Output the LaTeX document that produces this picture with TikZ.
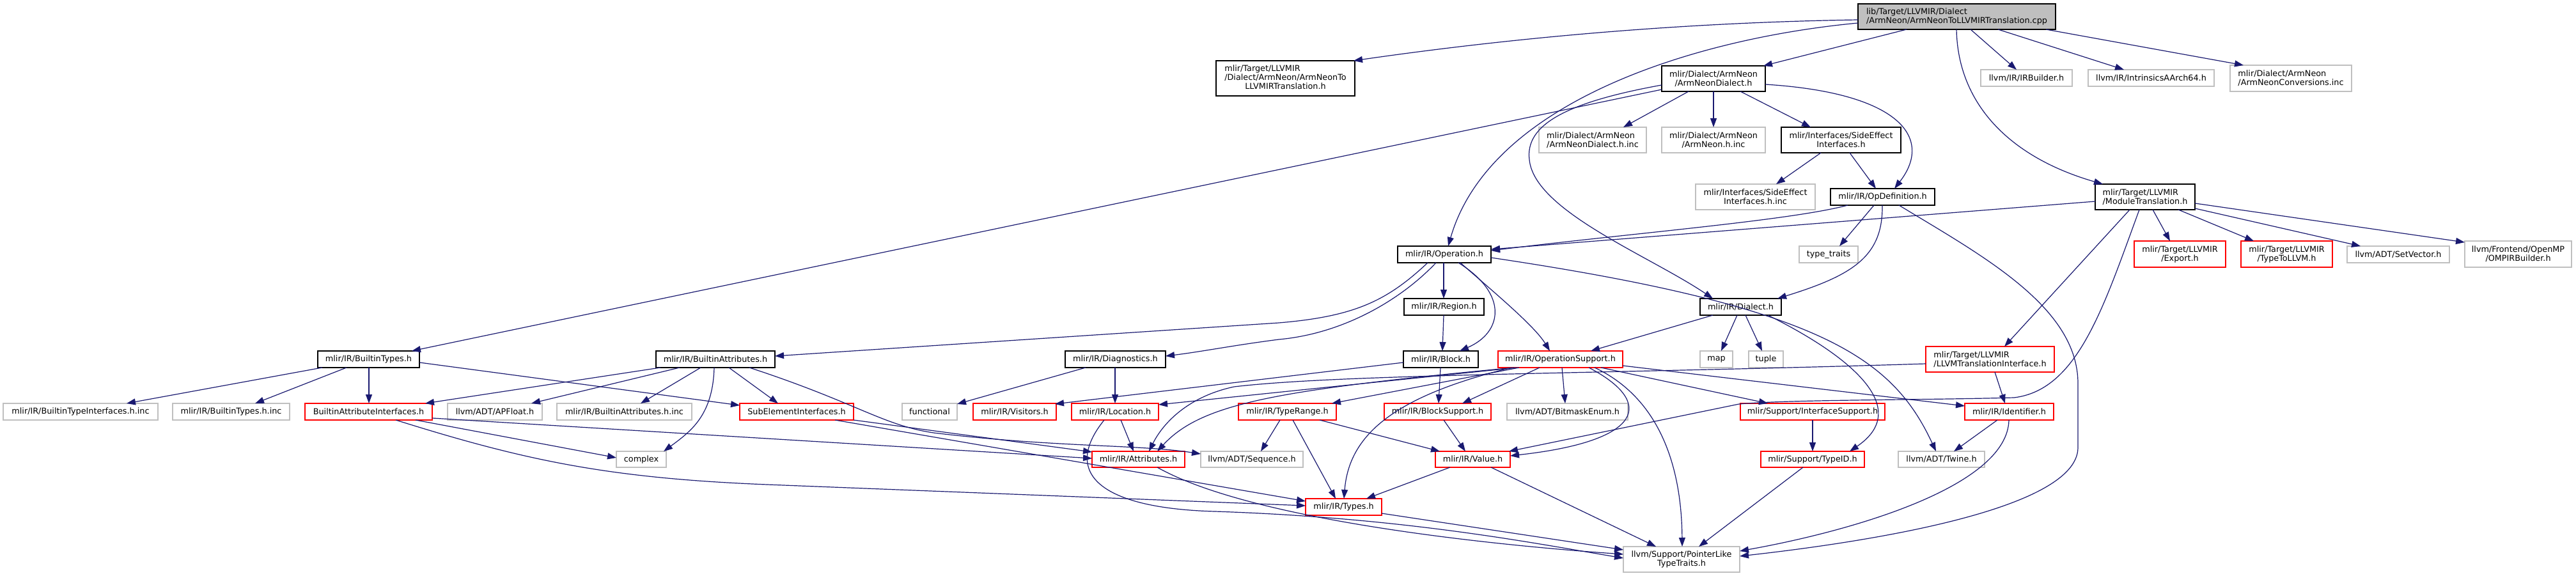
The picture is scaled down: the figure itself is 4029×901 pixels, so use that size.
\documentclass[tikz,border=0pt]{standalone}
\usepackage{fontspec}
\setmainfont{DejaVu Sans}
\usetikzlibrary{arrows.meta}
\definecolor{edgecol}{HTML}{191970}
\definecolor{graybd}{HTML}{BFBFBF}
\definecolor{rootfill}{HTML}{BFBFBF}
\newcommand\mkbox[7]{\node[#1, minimum width={(#4-#3)*1pt}, minimum height={(#6-#5)*1pt}] (#2) at ({(#3+#4)/2},{(#5+#6)/2}) {#7};}
\tikzset{
 nb/.style={draw=black, fill=white, line width=1.2pt, inner sep=0pt, outer sep=0pt, font=\fontsize{12.8}{14}\selectfont, align=center},
 ng/.style={nb, draw=graybd},
 nr/.style={nb, draw=red},
 nroot/.style={nb, fill=rootfill},
 conn/.style={draw=edgecol, line width=1.2pt, -{Triangle[length=14pt,width=10pt]}},
}
\begin{document}
\begin{tikzpicture}[x=1pt,y=-1pt]
\fill[white] (0,0) rectangle (4029,901);
\useasboundingbox (0,0) rectangle (4029,901);
% nodes
\mkbox{nroot, align=left}{root}{2906}{3215}{6}{46}{lib/Target/LLVMIR/Dialect\\/ArmNeon/ArmNeonToLLVMIRTranslation.cpp}
\mkbox{nb}{a2ltr}{1902}{2119}{95}{150}{\begin{tabular}{@{}l@{}}mlir/Target/LLVMIR\\/Dialect/ArmNeon/ArmNeonTo\\\multicolumn{1}{@{}c@{}}{LLVMIRTranslation.h}\end{tabular}}
\mkbox{nb}{andial}{2599}{2761}{103}{143}{mlir/Dialect/ArmNeon\\/ArmNeonDialect.h}
\mkbox{ng}{irb}{3098}{3241}{109}{135}{llvm/IR/IRBuilder.h}
\mkbox{ng}{intr}{3266}{3463}{109}{135}{llvm/IR/IntrinsicsAArch64.h}
\mkbox{ng, align=left}{conv}{3488}{3678}{102}{143}{mlir/Dialect/ArmNeon\\/ArmNeonConversions.inc}
\mkbox{ng, align=left}{dialinc}{2407}{2575}{199}{239}{mlir/Dialect/ArmNeon\\/ArmNeonDialect.h.inc}
\mkbox{ng}{neoninc}{2599}{2761}{199}{239}{mlir/Dialect/ArmNeon\\/ArmNeon.h.inc}
\mkbox{nb}{sei}{2786}{2973}{199}{239}{mlir/Interfaces/SideEffect\\Interfaces.h}
\mkbox{ng}{seiinc}{2652}{2839}{288}{328}{mlir/Interfaces/SideEffect\\Interfaces.h.inc}
\mkbox{nb}{opdef}{2863}{3026}{295}{321}{mlir/IR/OpDefinition.h}
\mkbox{nb, align=left}{modtr}{3277}{3433}{288}{328}{mlir/Target/LLVMIR\\/ModuleTranslation.h}
\mkbox{nb}{op}{2186}{2332}{385}{411}{mlir/IR/Operation.h}
\mkbox{ng}{typetraits}{2814}{2906}{385}{411}{type\_traits}
\mkbox{nr}{export}{3338}{3481}{377}{418}{mlir/Target/LLVMIR\\/Export.h}
\mkbox{nr}{tollvm}{3505}{3648}{377}{418}{mlir/Target/LLVMIR\\/TypeToLLVM.h}
\mkbox{ng}{setvec}{3671}{3831}{385}{411}{llvm/ADT/SetVector.h}
\mkbox{ng}{omp}{3855}{4022}{377}{418}{llvm/Frontend/OpenMP\\/OMPIRBuilder.h}
\mkbox{nb}{region}{2196}{2321}{467}{493}{mlir/IR/Region.h}
\mkbox{nb}{dialect}{2659}{2786}{467}{493}{mlir/IR/Dialect.h}
\mkbox{nb}{btypes}{497}{656}{549}{575}{mlir/IR/BuiltinTypes.h}
\mkbox{nb}{battrs}{1026}{1212}{549}{575}{mlir/IR/BuiltinAttributes.h}
\mkbox{nb}{diag}{1666}{1823}{549}{575}{mlir/IR/Diagnostics.h}
\mkbox{nb}{block}{2195}{2312}{549}{575}{mlir/IR/Block.h}
\mkbox{nr}{opsup}{2343}{2538}{549}{575}{mlir/IR/OperationSupport.h}
\mkbox{ng}{map}{2659}{2710}{549}{575}{map}
\mkbox{ng}{tuple}{2735}{2789}{549}{575}{tuple}
\mkbox{nr, align=left}{llvmti}{3012}{3213}{542}{582}{mlir/Target/LLVMIR\\/LLVMTranslationInterface.h}
\mkbox{ng}{btinc}{5}{247}{631}{657}{mlir/IR/BuiltinTypeInterfaces.h.inc}
\mkbox{ng}{btypesinc}{270}{453}{631}{657}{mlir/IR/BuiltinTypes.h.inc}
\mkbox{nr}{bai}{477}{676}{631}{657}{BuiltinAttributeInterfaces.h}
\mkbox{ng}{apfloat}{700}{848}{631}{657}{llvm/ADT/APFloat.h}
\mkbox{ng}{battrsinc}{871}{1082}{631}{657}{mlir/IR/BuiltinAttributes.h.inc}
\mkbox{nr}{subel}{1157}{1335}{631}{657}{SubElementInterfaces.h}
\mkbox{ng}{functional}{1411}{1497}{631}{657}{functional}
\mkbox{nr}{visitors}{1522}{1652}{631}{657}{mlir/IR/Visitors.h}
\mkbox{nr}{location}{1676}{1812}{631}{657}{mlir/IR/Location.h}
\mkbox{nr}{typerange}{1937}{2090}{631}{657}{mlir/IR/TypeRange.h}
\mkbox{nr}{blocksup}{2165}{2332}{631}{657}{mlir/IR/BlockSupport.h}
\mkbox{ng}{bitmask}{2357}{2546}{631}{657}{llvm/ADT/BitmaskEnum.h}
\mkbox{nr}{ifsup}{2722}{2948}{631}{657}{mlir/Support/InterfaceSupport.h}
\mkbox{nr}{identifier}{3073}{3212}{631}{657}{mlir/IR/Identifier.h}
\mkbox{ng}{complex}{964}{1042}{706}{731}{complex}
\mkbox{nr}{attrs}{1708}{1853}{706}{731}{mlir/IR/Attributes.h}
\mkbox{ng}{sequence}{1878}{2038}{706}{731}{llvm/ADT/Sequence.h}
\mkbox{nr}{value}{2245}{2362}{706}{731}{mlir/IR/Value.h}
\mkbox{nr}{typeid}{2754}{2916}{706}{731}{mlir/Support/TypeID.h}
\mkbox{ng}{twine}{2969}{3104}{706}{731}{llvm/ADT/Twine.h}
\mkbox{nr}{types}{2042}{2161}{780}{806}{mlir/IR/Types.h}
\mkbox{ng}{ptrlike}{2539}{2721}{855}{895}{llvm/Support/PointerLike\\TypeTraits.h}
% edges: root
\draw[conn] ([shift={(0,25)}]root.north west) .. controls (2643,35) and (2380,57) .. ([shift={(215,0)}]a2ltr.north west);
\draw[conn] ([shift={(0,30)}]root.north west) .. controls (2650,60) and (2330,160) .. ([shift={(79,0)}]op.north west);
\draw[conn] ([shift={(76,40)}]root.north west) -- ([shift={(159,0)}]andial.north west);
\draw[conn] ([shift={(176,40)}]root.north west) -- ([shift={(56,0)}]irb.north west);
\draw[conn] ([shift={(219,40)}]root.north west) -- ([shift={(56,0)}]intr.north west);
\draw[conn] ([shift={(294,40)}]root.north west) -- ([shift={(21,0)}]conv.north west);
\draw[conn] ([shift={(154,40)}]root.north west) .. controls (3062,160) and (3140,245) .. ([shift={(12,0)}]modtr.north west);
% andial
\draw[conn] ([shift={(0,37)}]andial.north west) -- ([shift={(147,0)}]btypes.north west);
\draw[conn] ([shift={(0,30)}]andial.north west) .. controls (2450,160) and (2385,195) .. (2392,250) .. controls (2400,330) and (2580,400) .. ([shift={(20,0)}]dialect.north west);
\draw[conn] ([shift={(42,40)}]andial.north west) -- ([shift={(132,0)}]dialinc.north west);
\draw[conn] ([shift={(81,40)}]andial.north west) -- ([shift={(81,0)}]neoninc.north west);
\draw[conn] ([shift={(123,40)}]andial.north west) -- ([shift={(46,0)}]sei.north west);
\draw[conn] ([shift={(162,29)}]andial.north west) .. controls (2970,145) and (3025,215) .. ([shift={(100,0)}]opdef.north west);
% sei
\draw[conn] ([shift={(62,40)}]sei.north west) -- ([shift={(126,0)}]seiinc.north west);
\draw[conn] ([shift={(107,40)}]sei.north west) -- ([shift={(71,0)}]opdef.north west);
% opdef
\draw[conn] ([shift={(27,26)}]opdef.north west) .. controls (2800,345) and (2550,365) .. ([shift={(146,7)}]op.north west);
\draw[conn] ([shift={(68,26)}]opdef.north west) -- ([shift={(63,0)}]typetraits.north west);
\draw[conn] ([shift={(81,26)}]opdef.north west) .. controls (2945,400) and (2900,430) .. ([shift={(121,0)}]dialect.north west);
\draw[conn] ([shift={(107,26)}]opdef.north west) .. controls (3100,400) and (3250,480) .. (3250,600) -- (3250,700) .. controls (3250,800) and (2900,850) .. ([shift={(182,15)}]ptrlike.north west);
% modtr
\draw[conn] ([shift={(0,27)}]modtr.north west) -- ([shift={(146,5)}]op.north west);
\draw[conn] ([shift={(54,40)}]modtr.north west) -- ([shift={(123,0)}]llvmti.north west);
\draw[conn] ([shift={(69,40)}]modtr.north west) .. controls (3290,480) and (3250,610) .. (3150,622) .. controls (3000,626) and (2800,625) .. (2720,632) -- ([shift={(115,0)}]value.north west);
\draw[conn] ([shift={(90,40)}]modtr.north west) -- ([shift={(56,0)}]export.north west);
\draw[conn] ([shift={(130,40)}]modtr.north west) -- ([shift={(20,0)}]tollvm.north west);
\draw[conn] ([shift={(156,38)}]modtr.north west) -- ([shift={(21,0)}]setvec.north west);
\draw[conn] ([shift={(156,30)}]modtr.north west) -- ([shift={(0,2)}]omp.north west);
% op
\draw[conn] ([shift={(47,26)}]op.north west) .. controls (2170,470) and (2120,495) .. (2000,505) -- ([shift={(186,8)}]battrs.north west);
\draw[conn] ([shift={(60,26)}]op.north west) .. controls (2190,470) and (2100,522) .. (2000,531) .. controls (1930,540) and (1880,550) .. ([shift={(157,8)}]diag.north west);
\draw[conn] ([shift={(72,26)}]op.north west) -- ([shift={(62,0)}]region.north west);
\draw[conn] ([shift={(95,26)}]op.north west) .. controls (2360,460) and (2350,520) .. ([shift={(88,0)}]block.north west);
\draw[conn] ([shift={(98,26)}]op.north west) .. controls (2340,460) and (2400,510) .. ([shift={(81,0)}]opsup.north west);
\draw[conn] ([shift={(146,18)}]op.north west) .. controls (2850,480) and (2960,560) .. ([shift={(59,0)}]twine.north west);
% region, block
\draw[conn] ([shift={(62,26)}]region.north west) -- ([shift={(61,0)}]block.north west);
\draw[conn] ([shift={(58,26)}]block.north west) -- ([shift={(85,0)}]blocksup.north west);
\draw[conn] ([shift={(0,18)}]block.north west) -- ([shift={(128,1)}]visitors.north west);
% opsup
\draw[conn] ([shift={(30,26)}]opsup.north west) -- ([shift={(136,2)}]location.north west);
\draw[conn] ([shift={(25,26)}]opsup.north west) .. controls (2000,610) and (1880,630) .. ([shift={(102,0)}]attrs.north west);
\draw[conn] ([shift={(33,26)}]opsup.north west) -- ([shift={(146,0)}]typerange.north west);
\draw[conn] ([shift={(21,26)}]opsup.north west) .. controls (2180,620) and (2110,680) .. ([shift={(60,0)}]types.north west);
\draw[conn] ([shift={(65,26)}]opsup.north west) -- ([shift={(122,0)}]blocksup.north west);
\draw[conn] ([shift={(100,26)}]opsup.north west) -- ([shift={(91,0)}]bitmask.north west);
\draw[conn] ([shift={(142,26)}]opsup.north west) .. controls (2590,630) and (2570,690) .. ([shift={(117,7)}]value.north west);
\draw[conn] ([shift={(151,26)}]opsup.north west) .. controls (2590,620) and (2630,720) .. ([shift={(92,0)}]ptrlike.north west);
\draw[conn] ([shift={(161,26)}]opsup.north west) -- ([shift={(43,0)}]ifsup.north west);
\draw[conn] ([shift={(195,23)}]opsup.north west) -- ([shift={(0,4)}]identifier.north west);
% dialect
\draw[conn] ([shift={(20,26)}]dialect.north west) -- ([shift={(145,0)}]opsup.north west);
\draw[conn] ([shift={(58,26)}]dialect.north west) -- ([shift={(33,0)}]map.north west);
\draw[conn] ([shift={(71,26)}]dialect.north west) -- ([shift={(21,0)}]tuple.north west);
\draw[conn] ([shift={(106,26)}]dialect.north west) .. controls (2900,560) and (2990,640) .. ([shift={(139,0)}]typeid.north west);
% llvmti
\draw[conn] ([shift={(108,40)}]llvmti.north west) -- ([shift={(63,0)}]identifier.north west);
\draw[conn] ([shift={(0,27)}]llvmti.north west) .. controls (2500,585) and (2100,585) .. (1930,605) .. controls (1860,620) and (1820,660) .. ([shift={(89,0)}]attrs.north west);
% typerange, blocksup, ifsup, identifier
\draw[conn] ([shift={(65,26)}]typerange.north west) -- ([shift={(94,0)}]sequence.north west);
\draw[conn] ([shift={(85,26)}]typerange.north west) -- ([shift={(47,0)}]types.north west);
\draw[conn] ([shift={(127,26)}]typerange.north west) -- ([shift={(7,0)}]value.north west);
\draw[conn] ([shift={(93,26)}]blocksup.north west) -- ([shift={(47,0)}]value.north west);
\draw[conn] ([shift={(113,26)}]ifsup.north west) -- ([shift={(81,0)}]typeid.north west);
\draw[conn] ([shift={(51,26)}]identifier.north west) -- ([shift={(87,0)}]twine.north west);
\draw[conn] ([shift={(69,26)}]identifier.north west) .. controls (3140,760) and (2900,830) .. ([shift={(182,7)}]ptrlike.north west);
% value, typeid, types
\draw[conn] ([shift={(23,25)}]value.north west) -- ([shift={(95,0)}]types.north west);
\draw[conn] ([shift={(87,25)}]value.north west) -- ([shift={(51,0)}]ptrlike.north west);
\draw[conn] ([shift={(66,25)}]typeid.north west) -- ([shift={(118,0)}]ptrlike.north west);
\draw[conn] ([shift={(119,23)}]types.north west) -- ([shift={(0,5)}]ptrlike.north west);
% location, attrs
\draw[conn] ([shift={(77,26)}]location.north west) -- ([shift={(65,0)}]attrs.north west);
\draw[conn] ([shift={(51,26)}]location.north west) .. controls (1660,740) and (1720,795) .. (1900,800) .. controls (2200,810) and (2400,850) .. ([shift={(0,18)}]ptrlike.north west);
\draw[conn] ([shift={(102,25)}]attrs.north west) .. controls (1950,810) and (2300,850) .. ([shift={(0,12)}]ptrlike.north west);
% diag
\draw[conn] ([shift={(32,26)}]diag.north west) -- ([shift={(86,1)}]functional.north west);
\draw[conn] ([shift={(78,26)}]diag.north west) -- ([shift={(68,0)}]location.north west);
% battrs
\draw[conn] ([shift={(7,26)}]battrs.north west) -- ([shift={(188,0)}]bai.north west);
\draw[conn] ([shift={(37,26)}]battrs.north west) -- ([shift={(131,0)}]apfloat.north west);
\draw[conn] ([shift={(70,26)}]battrs.north west) -- ([shift={(131,0)}]battrsinc.north west);
\draw[conn] ([shift={(91,26)}]battrs.north west) .. controls (1115,650) and (1080,675) .. ([shift={(74,0)}]complex.north west);
\draw[conn] ([shift={(114,26)}]battrs.north west) -- ([shift={(60,0)}]subel.north west);
\draw[conn] ([shift={(146,26)}]battrs.north west) .. controls (1340,630) and (1380,665) .. (1460,677) .. controls (1650,700) and (1780,695) .. ([shift={(0,4)}]sequence.north west);
% btypes
\draw[conn] ([shift={(7,26)}]btypes.north west) -- ([shift={(193,0)}]btinc.north west);
\draw[conn] ([shift={(45,26)}]btypes.north west) -- ([shift={(129,0)}]btypesinc.north west);
\draw[conn] ([shift={(80,26)}]btypes.north west) -- ([shift={(100,0)}]bai.north west);
\draw[conn] ([shift={(159,18)}]btypes.north west) -- ([shift={(0,3)}]subel.north west);
% bai, subel
\draw[conn] ([shift={(173,26)}]bai.north west) -- ([shift={(0,10)}]complex.north west);
\draw[conn] ([shift={(142,26)}]bai.north west) .. controls (820,720) and (950,748) .. (1200,758) -- ([shift={(0,11)}]types.north west);
\draw[conn] ([shift={(199,23)}]bai.north west) -- ([shift={(0,11)}]attrs.north west);
\draw[conn] ([shift={(178,26)}]subel.north west) -- ([shift={(0,1)}]attrs.north west);
\draw[conn] ([shift={(149,26)}]subel.north west) -- ([shift={(0,4)}]types.north west);
\end{tikzpicture}
\end{document}
